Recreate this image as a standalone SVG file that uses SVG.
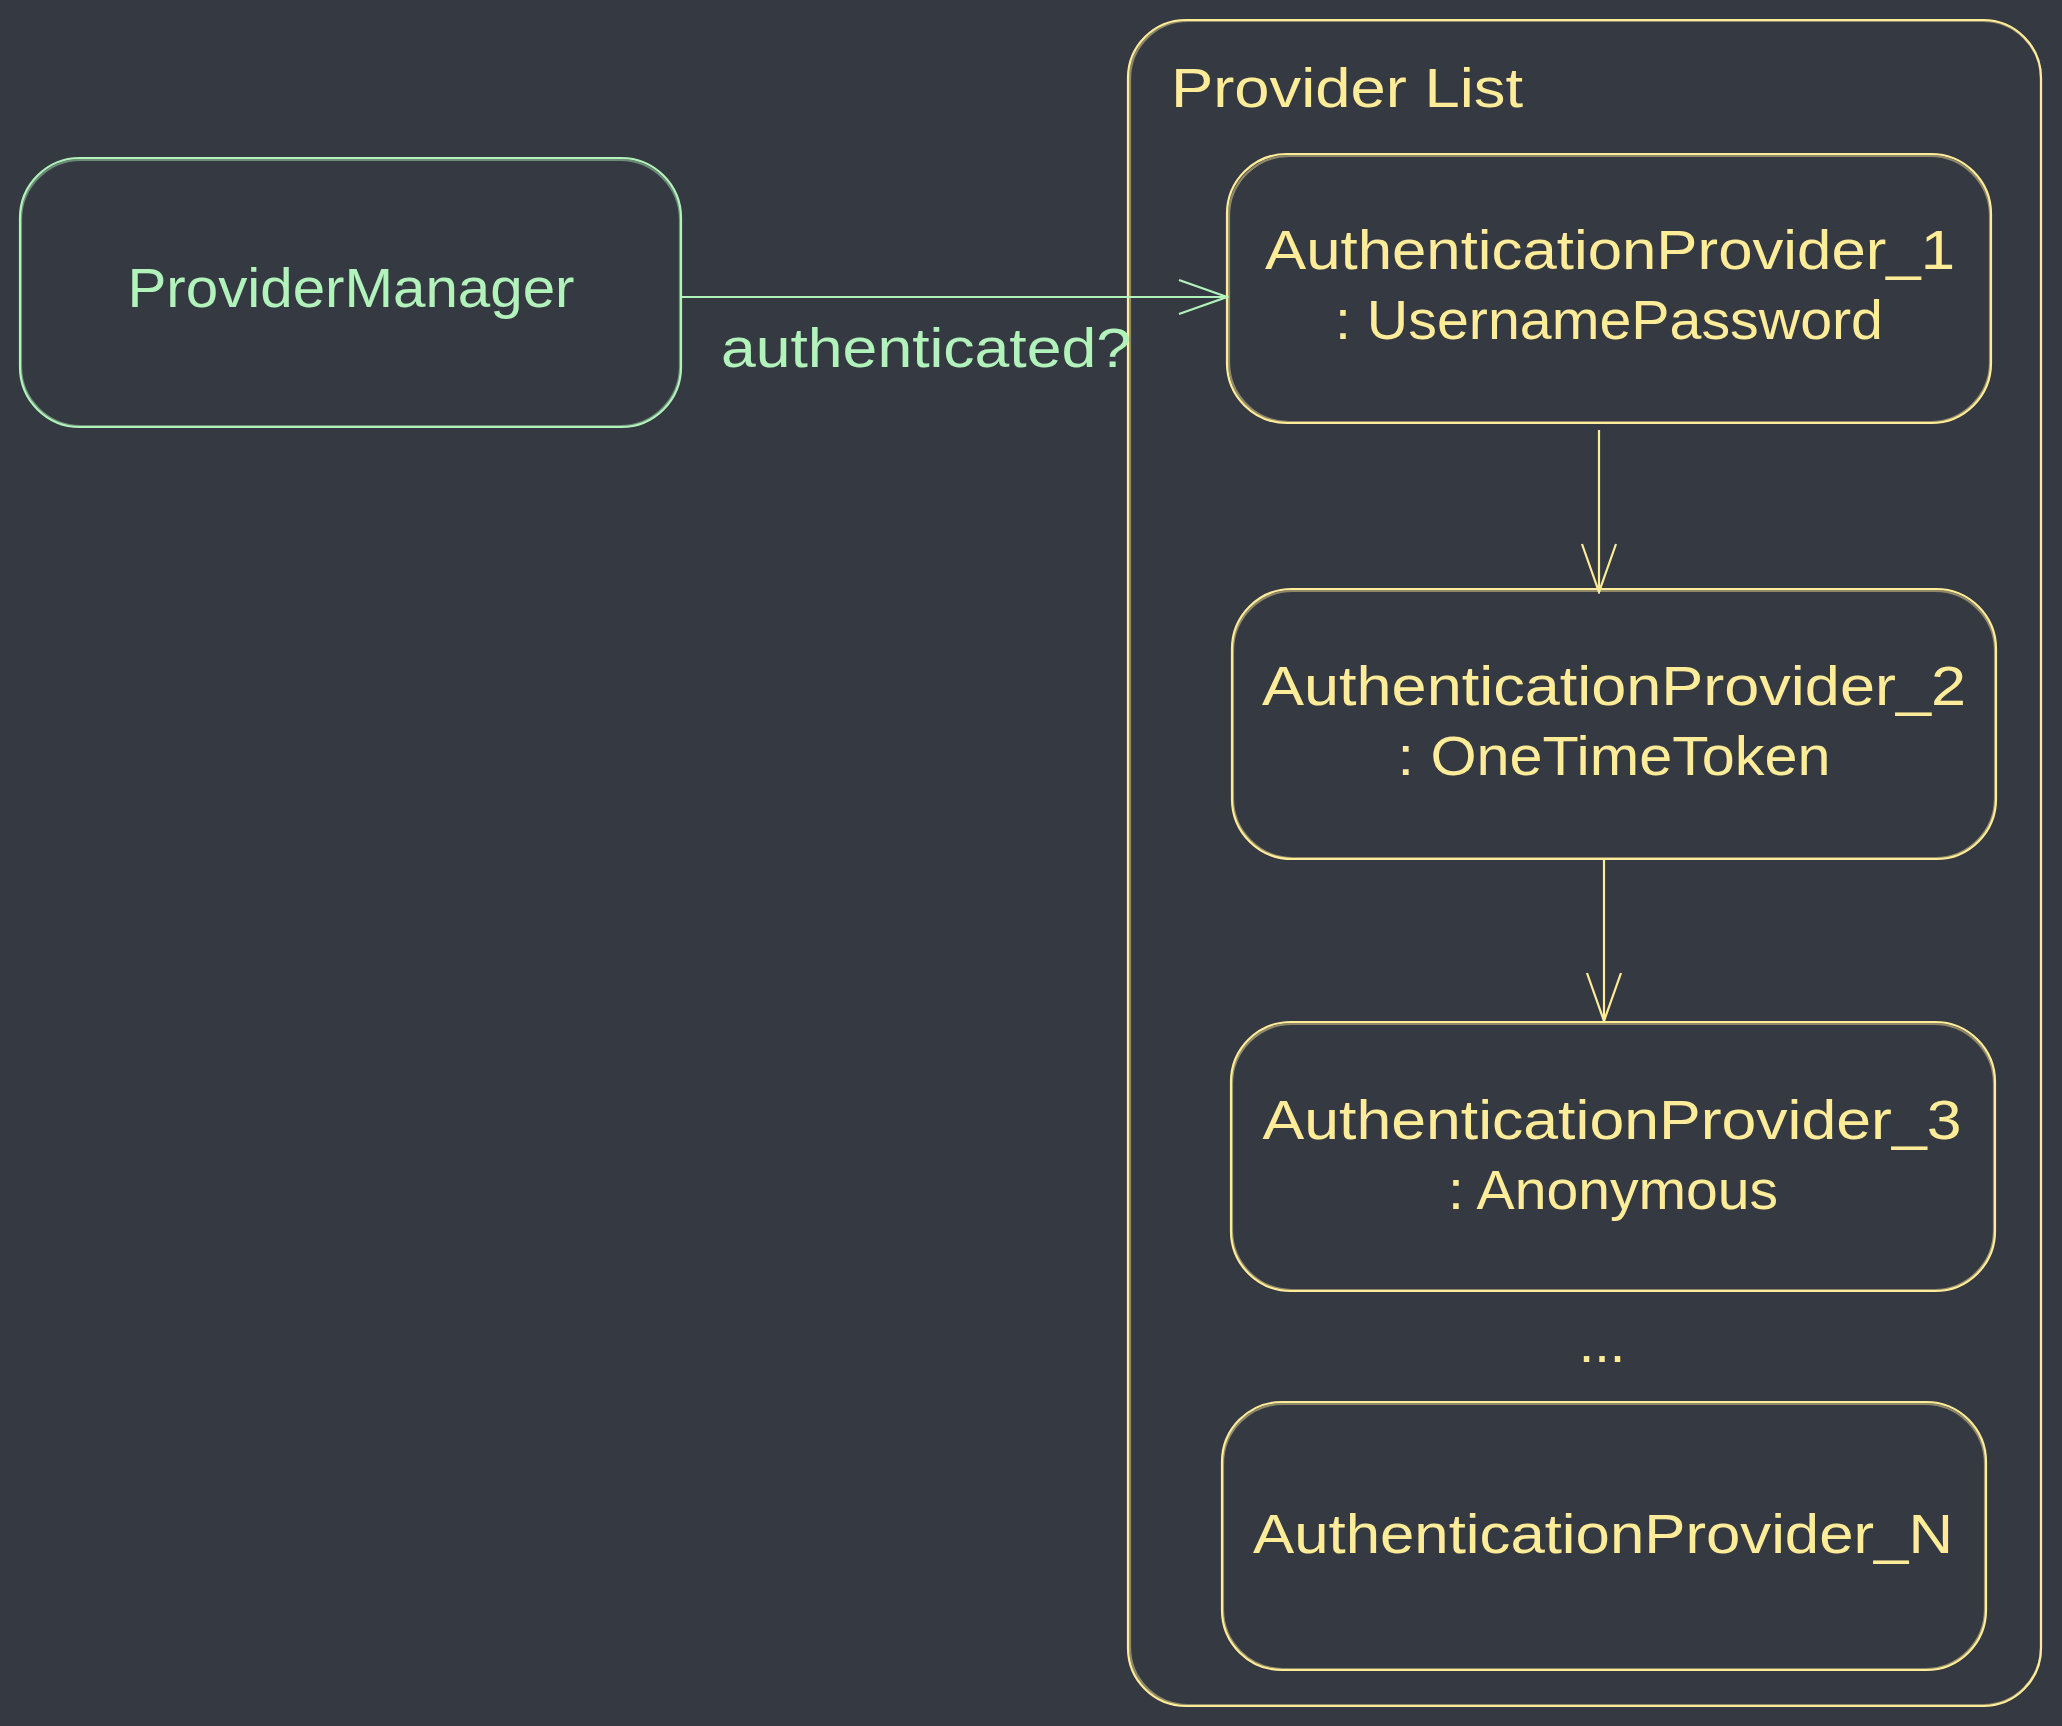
<svg xmlns="http://www.w3.org/2000/svg" width="2062" height="1726" viewBox="0 0 2062 1726">
  <style>
    .green { fill: none; stroke: #b2f2bb; stroke-width: 2.2; }
    .yellow { fill: none; stroke: #ffec99; stroke-width: 2.2; }
    .gtext { fill: #b2f2bb; font-family: "Liberation Sans", "DejaVu Sans", sans-serif; font-size: 56px; }
    .ytext { fill: #ffec99; font-family: "Liberation Sans", "DejaVu Sans", sans-serif; font-size: 56px; }
    .mid { text-anchor: middle; }
  </style>
  <defs>
    <marker id="arrow-green" viewBox="0 0 52 38" refX="50" refY="19" markerWidth="52" markerHeight="38" markerUnits="userSpaceOnUse" orient="auto">
      <path d="M2,2 L50,19 L2,36" fill="none" stroke="#b2f2bb" stroke-width="2.2"/>
    </marker>
    <marker id="arrow-yellow" viewBox="0 0 52 38" refX="50" refY="19" markerWidth="52" markerHeight="38" markerUnits="userSpaceOnUse" orient="auto">
      <path d="M2,2 L50,19 L2,36" fill="none" stroke="#ffec99" stroke-width="2.2"/>
    </marker>
  </defs>

  <rect x="0" y="0" width="2062" height="1726" fill="#353a42"/>

  <g id="provider-list">
    <rect class="yellow" x="1128" y="20" width="913" height="1686" rx="58" ry="58"/>
    <rect class="yellow" x="1130" y="21" width="911" height="1684" rx="58" ry="58" stroke-opacity="0.45" stroke-width="1.2"/>
    <text class="ytext" x="1171" y="107" textLength="352" lengthAdjust="spacingAndGlyphs">Provider List</text>
  </g>

  <g id="provider-manager">
    <rect class="green" x="20" y="158" width="661" height="269" rx="60" ry="60"/>
    <rect class="green" x="21" y="160" width="659" height="266" rx="60" ry="60" stroke-opacity="0.45" stroke-width="1.2"/>
    <text class="gtext mid" x="351" y="307" textLength="447" lengthAdjust="spacingAndGlyphs">ProviderManager</text>
  </g>

  <g id="auth-provider-1">
    <rect class="yellow" x="1227" y="154" width="764" height="269" rx="60" ry="60"/>
    <rect class="yellow" x="1229" y="156" width="761" height="266" rx="60" ry="60" stroke-opacity="0.45" stroke-width="1.2"/>
    <text class="ytext mid" x="1610" y="269" textLength="690" lengthAdjust="spacingAndGlyphs">AuthenticationProvider_1</text>
    <text class="ytext mid" x="1609" y="339" textLength="548" lengthAdjust="spacingAndGlyphs">: UsernamePassword</text>
  </g>

  <g id="auth-provider-2">
    <rect class="yellow" x="1232" y="589" width="764" height="270" rx="60" ry="60"/>
    <rect class="yellow" x="1233" y="591" width="762" height="267" rx="60" ry="60" stroke-opacity="0.45" stroke-width="1.2"/>
    <text class="ytext mid" x="1614" y="705" textLength="704" lengthAdjust="spacingAndGlyphs">AuthenticationProvider_2</text>
    <text class="ytext mid" x="1614" y="775" textLength="433" lengthAdjust="spacingAndGlyphs">: OneTimeToken</text>
  </g>

  <g id="auth-provider-3">
    <rect class="yellow" x="1231" y="1022" width="764" height="269" rx="60" ry="60"/>
    <rect class="yellow" x="1232" y="1024" width="762" height="266" rx="60" ry="60" stroke-opacity="0.45" stroke-width="1.2"/>
    <text class="ytext mid" x="1612" y="1139" textLength="699" lengthAdjust="spacingAndGlyphs">AuthenticationProvider_3</text>
    <text class="ytext mid" x="1613" y="1209" textLength="330" lengthAdjust="spacingAndGlyphs">: Anonymous</text>
  </g>

  <g id="ellipsis">
    <text class="ytext mid" x="1602" y="1362">...</text>
  </g>

  <g id="auth-provider-n">
    <rect class="yellow" x="1222" y="1402" width="764" height="268" rx="60" ry="60"/>
    <rect class="yellow" x="1223" y="1404" width="762" height="265" rx="60" ry="60" stroke-opacity="0.45" stroke-width="1.2"/>
    <text class="ytext mid" x="1603" y="1553" textLength="700" lengthAdjust="spacingAndGlyphs">AuthenticationProvider_N</text>
  </g>

  <g id="connectors">
    <path class="green" d="M682,297 L1227,297" marker-end="url(#arrow-green)"/>
    <text class="gtext mid" x="926" y="367" textLength="410" lengthAdjust="spacingAndGlyphs">authenticated?</text>
    <path class="yellow" d="M1599,430 L1599,592" stroke-width="1.8" marker-end="url(#arrow-yellow)"/>
    <path class="yellow" d="M1604,860 L1604,1021" stroke-width="1.8" marker-end="url(#arrow-yellow)"/>
  </g>
</svg>
